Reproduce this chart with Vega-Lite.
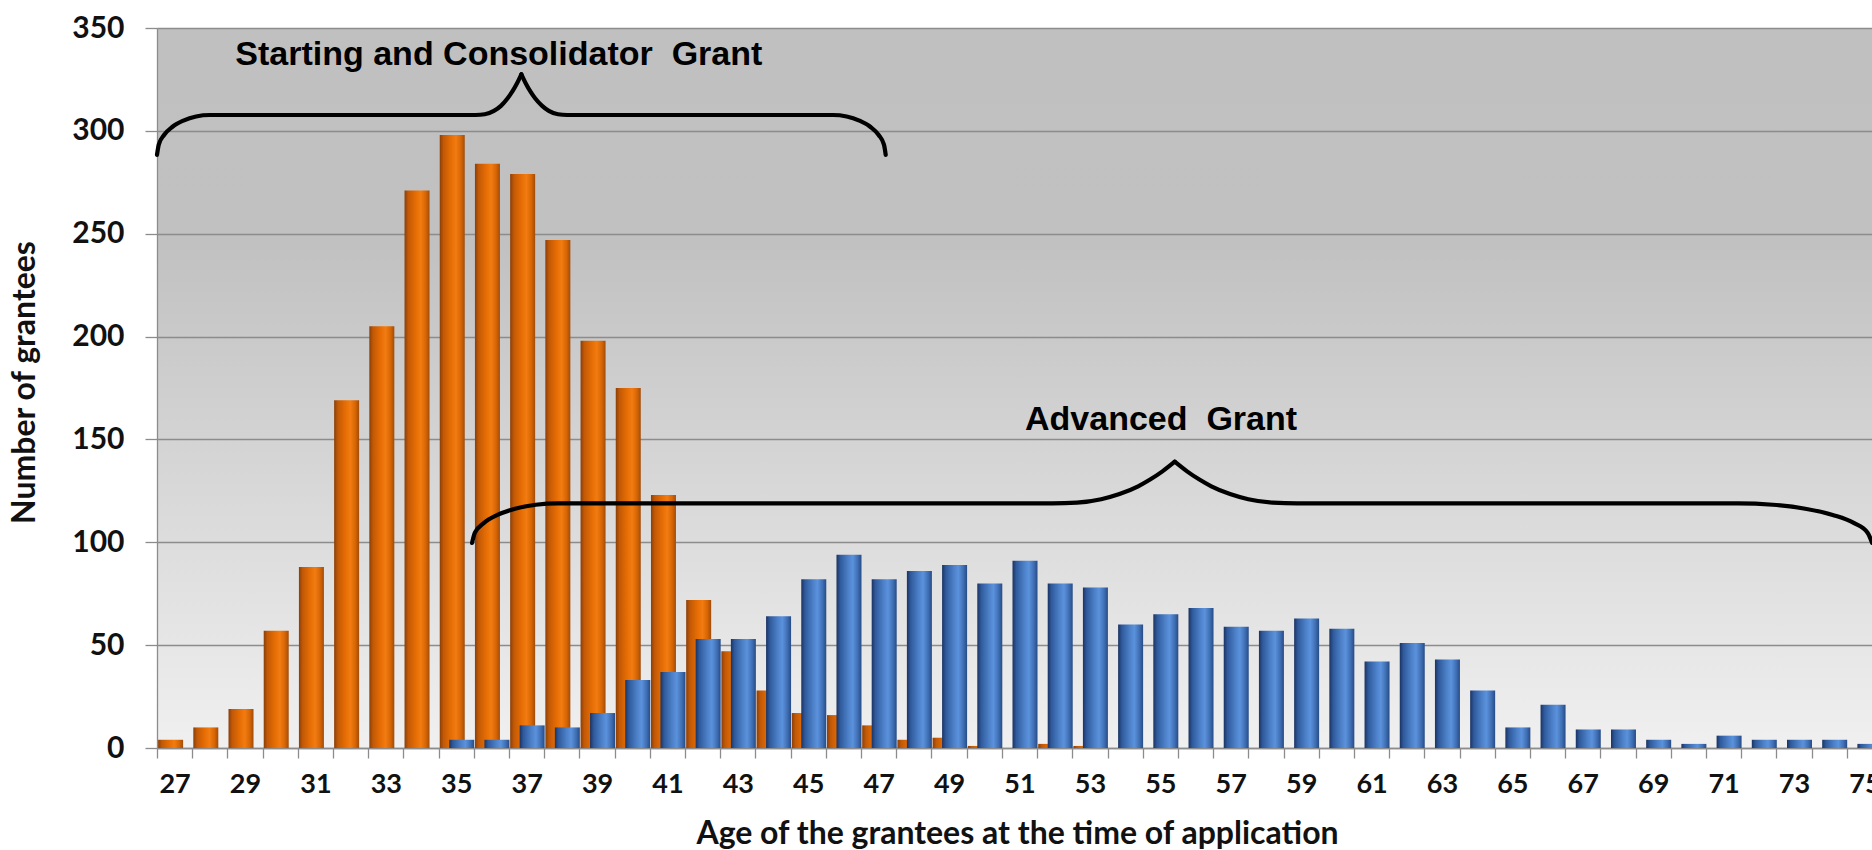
{
  "$schema": "https://vega.github.io/schema/vega-lite/v6.json",
  "width": 1715,
  "height": 720,
  "autosize": {"type": "none"},
  "padding": {"left": 157, "top": 28, "right": 0, "bottom": 102},
  "background": "white",
  "view": {
    "stroke": null,
    "fill": {"gradient": "linear", "x1": 0, "y1": 0, "x2": 0, "y2": 1,
      "stops": [{"offset": 0, "color": "#c0c0c0"}, {"offset": 0.3, "color": "#c1c1c1"}, {"offset": 1, "color": "#f0f0f0"}]}
  },
  "datasets": {
    "grants": [
      {"age": 27, "series": "S", "count": 4}, {"age": 28, "series": "S", "count": 10}, {"age": 29, "series": "S", "count": 19},
      {"age": 30, "series": "S", "count": 57}, {"age": 31, "series": "S", "count": 88}, {"age": 32, "series": "S", "count": 169},
      {"age": 33, "series": "S", "count": 205}, {"age": 34, "series": "S", "count": 271}, {"age": 35, "series": "S", "count": 298},
      {"age": 36, "series": "S", "count": 284}, {"age": 37, "series": "S", "count": 279}, {"age": 38, "series": "S", "count": 247},
      {"age": 39, "series": "S", "count": 198}, {"age": 40, "series": "S", "count": 175}, {"age": 41, "series": "S", "count": 123},
      {"age": 42, "series": "S", "count": 72}, {"age": 43, "series": "S", "count": 47}, {"age": 44, "series": "S", "count": 28},
      {"age": 45, "series": "S", "count": 17}, {"age": 46, "series": "S", "count": 16}, {"age": 47, "series": "S", "count": 11},
      {"age": 48, "series": "S", "count": 4}, {"age": 49, "series": "S", "count": 5}, {"age": 50, "series": "S", "count": 1},
      {"age": 52, "series": "S", "count": 2}, {"age": 53, "series": "S", "count": 1},
      {"age": 35, "series": "A", "count": 4}, {"age": 36, "series": "A", "count": 4}, {"age": 37, "series": "A", "count": 11},
      {"age": 38, "series": "A", "count": 10}, {"age": 39, "series": "A", "count": 17}, {"age": 40, "series": "A", "count": 33},
      {"age": 41, "series": "A", "count": 37}, {"age": 42, "series": "A", "count": 53}, {"age": 43, "series": "A", "count": 53},
      {"age": 44, "series": "A", "count": 64}, {"age": 45, "series": "A", "count": 82}, {"age": 46, "series": "A", "count": 94},
      {"age": 47, "series": "A", "count": 82}, {"age": 48, "series": "A", "count": 86}, {"age": 49, "series": "A", "count": 89},
      {"age": 50, "series": "A", "count": 80}, {"age": 51, "series": "A", "count": 91}, {"age": 52, "series": "A", "count": 80},
      {"age": 53, "series": "A", "count": 78}, {"age": 54, "series": "A", "count": 60}, {"age": 55, "series": "A", "count": 65},
      {"age": 56, "series": "A", "count": 68}, {"age": 57, "series": "A", "count": 59}, {"age": 58, "series": "A", "count": 57},
      {"age": 59, "series": "A", "count": 63}, {"age": 60, "series": "A", "count": 58}, {"age": 61, "series": "A", "count": 42},
      {"age": 62, "series": "A", "count": 51}, {"age": 63, "series": "A", "count": 43}, {"age": 64, "series": "A", "count": 28},
      {"age": 65, "series": "A", "count": 10}, {"age": 66, "series": "A", "count": 21}, {"age": 67, "series": "A", "count": 9},
      {"age": 68, "series": "A", "count": 9}, {"age": 69, "series": "A", "count": 4}, {"age": 70, "series": "A", "count": 2},
      {"age": 71, "series": "A", "count": 6}, {"age": 72, "series": "A", "count": 4}, {"age": 73, "series": "A", "count": 4},
      {"age": 74, "series": "A", "count": 4}, {"age": 75, "series": "A", "count": 2}
    ],
    "braces": [
      {"part": "b1a", "xpos": 26.5, "count": 288.3}, {"part": "b1a", "xpos": 26.55, "count": 293.3}, {"part": "b1a", "xpos": 26.7, "count": 298.0},
      {"part": "b1a", "xpos": 26.94, "count": 302.0}, {"part": "b1a", "xpos": 27.25, "count": 305.0}, {"part": "b1a", "xpos": 27.61, "count": 307.0},
      {"part": "b1a", "xpos": 28.0, "count": 307.7}, {"part": "b1a", "xpos": 35.55, "count": 307.7}, {"part": "b1a", "xpos": 35.81, "count": 308.05},
      {"part": "b1a", "xpos": 36.07, "count": 309.7}, {"part": "b1a", "xpos": 36.27, "count": 312.14}, {"part": "b1a", "xpos": 36.46, "count": 315.82},
      {"part": "b1a", "xpos": 36.59, "count": 319.03}, {"part": "b1a", "xpos": 36.72, "count": 322.91}, {"part": "b1a", "xpos": 36.85, "count": 327.5},
      {"part": "b1b", "xpos": 36.85, "count": 327.5}, {"part": "b1b", "xpos": 36.98, "count": 322.91}, {"part": "b1b", "xpos": 37.11, "count": 319.03},
      {"part": "b1b", "xpos": 37.24, "count": 315.82}, {"part": "b1b", "xpos": 37.44, "count": 312.14}, {"part": "b1b", "xpos": 37.63, "count": 309.7},
      {"part": "b1b", "xpos": 37.89, "count": 308.05}, {"part": "b1b", "xpos": 38.15, "count": 307.7}, {"part": "b1b", "xpos": 45.7, "count": 307.7},
      {"part": "b1b", "xpos": 46.09, "count": 307.0}, {"part": "b1b", "xpos": 46.45, "count": 305.0}, {"part": "b1b", "xpos": 46.76, "count": 302.0},
      {"part": "b1b", "xpos": 47.0, "count": 298.0}, {"part": "b1b", "xpos": 47.15, "count": 293.3}, {"part": "b1b", "xpos": 47.2, "count": 288.3},
      {"part": "b2a", "xpos": 35.45, "count": 99.7}, {"part": "b2a", "xpos": 35.53, "count": 104.67}, {"part": "b2a", "xpos": 35.78, "count": 109.3},
      {"part": "b2a", "xpos": 36.17, "count": 113.28}, {"part": "b2a", "xpos": 36.67, "count": 116.33}, {"part": "b2a", "xpos": 37.26, "count": 118.25},
      {"part": "b2a", "xpos": 37.89, "count": 118.9}, {"part": "b2a", "xpos": 51.93, "count": 118.9}, {"part": "b2a", "xpos": 52.63, "count": 119.26},
      {"part": "b2a", "xpos": 53.32, "count": 120.95}, {"part": "b2a", "xpos": 53.84, "count": 123.45}, {"part": "b2a", "xpos": 54.37, "count": 127.22},
      {"part": "b2a", "xpos": 54.71, "count": 130.51}, {"part": "b2a", "xpos": 55.06, "count": 134.49}, {"part": "b2a", "xpos": 55.41, "count": 139.2},
      {"part": "b2b", "xpos": 55.41, "count": 139.2}, {"part": "b2b", "xpos": 55.76, "count": 134.49}, {"part": "b2b", "xpos": 56.11, "count": 130.51},
      {"part": "b2b", "xpos": 56.45, "count": 127.22}, {"part": "b2b", "xpos": 56.98, "count": 123.45}, {"part": "b2b", "xpos": 57.5, "count": 120.95},
      {"part": "b2b", "xpos": 58.19, "count": 119.26}, {"part": "b2b", "xpos": 58.89, "count": 118.9}, {"part": "b2b", "xpos": 71.41, "count": 118.9},
      {"part": "b2b", "xpos": 72.4, "count": 118.25}, {"part": "b2b", "xpos": 73.32, "count": 116.33}, {"part": "b2b", "xpos": 74.1, "count": 113.28},
      {"part": "b2b", "xpos": 74.71, "count": 109.3}, {"part": "b2b", "xpos": 75.09, "count": 104.67}, {"part": "b2b", "xpos": 75.22, "count": 99.7}
    ],
    "notes": [
      {"label": "Starting and Consolidator\u00a0 Grant", "xpos": 36.21, "count": 332},
      {"label": "Advanced\u00a0 Grant", "xpos": 55.02, "count": 154.6}
    ]
  },
  "layer": [
    {
      "data": {"name": "grants"},
      "encoding": {
        "x": {
          "field": "age", "type": "ordinal",
          "scale": {"domain": [27,28,29,30,31,32,33,34,35,36,37,38,39,40,41,42,43,44,45,46,47,48,49,50,51,52,53,54,55,56,57,58,59,60,61,62,63,64,65,66,67,68,69,70,71,72,73,74,75],
                    "range": [0, 1725], "paddingInner": 0, "paddingOuter": 0},
          "axis": {
            "title": "Age of the grantees at the time of application",
            "labelAngle": 0, "tickBand": "extent", "labelOverlap": false,
            "labelExpr": "datum.value % 2 === 1 ? datum.label : ''",
            "grid": false, "domainColor": "#8c8c8c", "domainWidth": 1.3,
            "tickColor": "#8c8c8c", "tickWidth": 1.3, "tickSize": 10,
            "labelFont": "Lato", "labelFontWeight": "bold", "labelFontSize": 27, "labelColor": "#111111", "labelPadding": 13,
            "titleFont": "Lato", "titleFontWeight": "bold", "titleFontSize": 32, "titleColor": "#111111",
            "titleX": 860, "titleY": 95, "titleAlign": "center", "titleBaseline": "alphabetic"
          }
        },
        "y": {
          "field": "count", "type": "quantitative", "title": "Number of grantees",
          "scale": {"domain": [0, 350], "nice": false},
          "axis": {
            "values": [0, 50, 100, 150, 200, 250, 300, 350],
            "grid": true, "gridColor": "#8c8c8c", "gridWidth": 1.3,
            "domainColor": "#8c8c8c", "domainWidth": 1.3, "tickColor": "#8c8c8c", "tickWidth": 1.3, "tickSize": 12,
            "labelFont": "Lato", "labelFontWeight": "bold", "labelFontSize": 30, "labelColor": "#111111", "labelPadding": 21,
            "titleFont": "Lato", "titleFontWeight": "bold", "titleFontSize": 32, "titleColor": "#111111",
            "titleX": -133, "titleY": 354, "titleAngle": 270, "titleAlign": "center", "titleBaseline": "middle"
          }
        }
      },
      "layer": [
        {
          "transform": [{"filter": "datum.series === 'S'"}],
          "mark": {"type": "bar", "width": 25, "xOffset": -4, "stroke": null,
            "color": {"gradient": "linear", "x1": 0, "y1": 0, "x2": 1, "y2": 0,
              "stops": [{"offset": 0, "color": "#8a3f0a"}, {"offset": 0.15, "color": "#c25906"}, {"offset": 0.45, "color": "#e66d04"},
                        {"offset": 0.65, "color": "#f27c12"}, {"offset": 0.85, "color": "#d66504"}, {"offset": 1, "color": "#a04c0c"}]}}
        },
        {
          "transform": [{"filter": "datum.series === 'A'"}],
          "mark": {"type": "bar", "width": 25, "xOffset": 5.5, "stroke": null,
            "color": {"gradient": "linear", "x1": 0, "y1": 0, "x2": 1, "y2": 0,
              "stops": [{"offset": 0, "color": "#1b3361"}, {"offset": 0.15, "color": "#2f5a9c"}, {"offset": 0.5, "color": "#4f84cc"},
                        {"offset": 0.65, "color": "#5b92dc"}, {"offset": 0.85, "color": "#3f6fb4"}, {"offset": 1, "color": "#274b86"}]}}
        }
      ]
    },
    {
      "data": {"name": "braces"},
      "mark": {"type": "line", "interpolate": "monotone", "color": "#000000", "strokeWidth": 4.2, "strokeCap": "round"},
      "encoding": {
        "x": {"field": "xpos", "type": "quantitative", "scale": {"domain": [26.5, 75.5], "range": [0, 1725], "nice": false, "zero": false}, "axis": null},
        "y": {"field": "count", "type": "quantitative", "title": "Number of grantees", "scale": {"domain": [0, 350], "nice": false}},
        "detail": {"field": "part"}
      }
    },
    {
      "data": {"name": "notes"},
      "mark": {"type": "text", "font": "Liberation Sans", "fontWeight": "bold", "fontSize": 34, "color": "#000000", "align": "center", "baseline": "alphabetic"},
      "encoding": {
        "x": {"field": "xpos", "type": "quantitative", "scale": {"domain": [26.5, 75.5], "range": [0, 1725], "nice": false, "zero": false}, "axis": null},
        "y": {"field": "count", "type": "quantitative", "title": "Number of grantees", "scale": {"domain": [0, 350], "nice": false}},
        "text": {"field": "label"}
      }
    }
  ],
  "resolve": {"scale": {"x": "independent"}}
}
